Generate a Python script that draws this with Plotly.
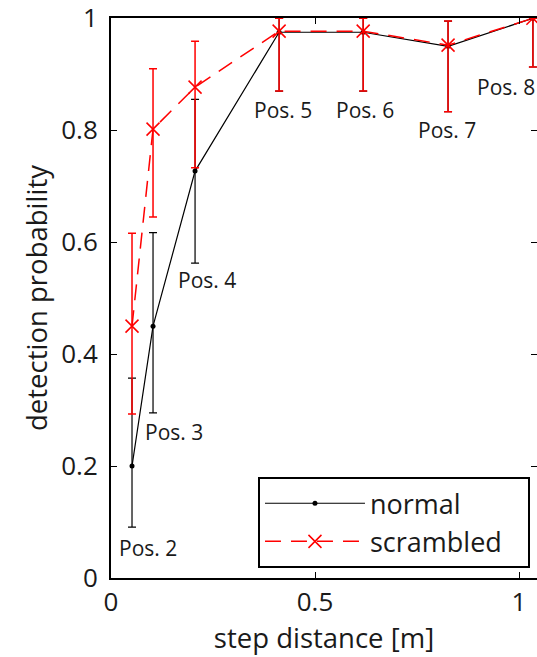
import plotly.graph_objects as go

step_distance = [0.0515, 0.103, 0.206, 0.412, 0.618, 0.826, 1.034]
pos_labels = ["Pos. 2", "Pos. 3", "Pos. 4", "Pos. 5", "Pos. 6", "Pos. 7", "Pos. 8"]

normal = [0.20, 0.45, 0.727, 0.975, 0.975, 0.95, 1.0]
normal_low = [0.091, 0.295, 0.5625, 0.87, 0.87, 0.833, 0.913]
normal_high = [0.357, 0.617, 0.855, 1.0, 1.0, 0.995, 1.0]

scrambled = [0.45, 0.802, 0.877, 0.977, 0.977, 0.952, 1.0]
scr_low = [0.293, 0.645, 0.733, 0.87, 0.87, 0.833, 0.913]
scr_high = [0.616, 0.910, 0.959, 1.0, 1.0, 0.995, 1.0]

# label anchor positions (data coordinates)
label_x = [0.091, 0.154, 0.235, 0.422, 0.623, 0.824, 0.968]
label_y = [0.054, 0.261, 0.532, 0.836, 0.836, 0.800, 0.877]

FONT = "Open Sans"
TXT = "#1a1a1a"

fig = go.Figure()
fig.add_trace(go.Scatter(
    x=step_distance, y=normal, name="normal\u00a0\u00a0\u00a0", mode="lines+markers",
    line=dict(color="black", width=1.2),
    marker=dict(symbol="circle", size=5, color="black"),
    error_y=dict(type="data", symmetric=False,
                 array=[h - v for h, v in zip(normal_high, normal)],
                 arrayminus=[v - l for v, l in zip(normal, normal_low)],
                 color="black", thickness=1.2, width=4),
))
fig.add_trace(go.Scatter(
    x=step_distance, y=scrambled, name="scrambled\u00a0\u00a0\u00a0", mode="lines+markers",
    line=dict(color="#ff0000", width=1.5, dash="16px,10px"),
    marker=dict(symbol="x-thin", size=13, color="#ff0000",
                line=dict(color="#ff0000", width=1.5)),
    error_y=dict(type="data", symmetric=False,
                 array=[h - v for h, v in zip(scr_high, scrambled)],
                 arrayminus=[v - l for v, l in zip(scrambled, scr_low)],
                 color="#ff0000", thickness=1.5, width=4),
))

for lx, ly, t in zip(label_x, label_y, pos_labels):
    fig.add_annotation(x=lx, y=ly, text=t, showarrow=False,
                       font=dict(family=FONT, size=21, color=TXT))

axis_common = dict(showgrid=False, zeroline=False, showline=True, linecolor="black",
                   linewidth=2, mirror="ticks", ticks="inside", ticklen=6,
                   tickcolor="black", tickwidth=1, ticklabeloverflow="allow",
                   automargin=False,
                   tickfont=dict(family=FONT, size=26, color=TXT))

fig.update_xaxes(range=[0, 1.044], tickvals=[0, 0.5, 1], ticktext=["0", "0.5", "1"],
                 title=dict(text="step distance [m]", font=dict(family=FONT, size=27.5, color=TXT),
                            standoff=2),
                 **axis_common)
fig.update_yaxes(range=[0, 1.0005], tickvals=[0, 0.2, 0.4, 0.6, 0.8, 1],
                 ticktext=["0", "0.2", "0.4", "0.6", "0.8", "1"],
                 ticklabelstandoff=6,
                 title=dict(text="detection probability", font=dict(family=FONT, size=27.5, color=TXT),
                            standoff=6),
                 **axis_common)

fig.update_layout(
    width=537, height=657,
    margin=dict(l=111, r=0, t=18, b=79),
    plot_bgcolor="white", paper_bgcolor="white",
    legend=dict(x=0.345, y=0.180, xanchor="left", yanchor="top",
                bordercolor="black", borderwidth=2, bgcolor="white",
                font=dict(family=FONT, size=27, color=TXT),
                itemwidth=100, tracegroupgap=0),
    showlegend=True,
)

fig.write_html("out.html", config={"displayModeBar": False},
               post_script="document.body.style.margin='0px';")
